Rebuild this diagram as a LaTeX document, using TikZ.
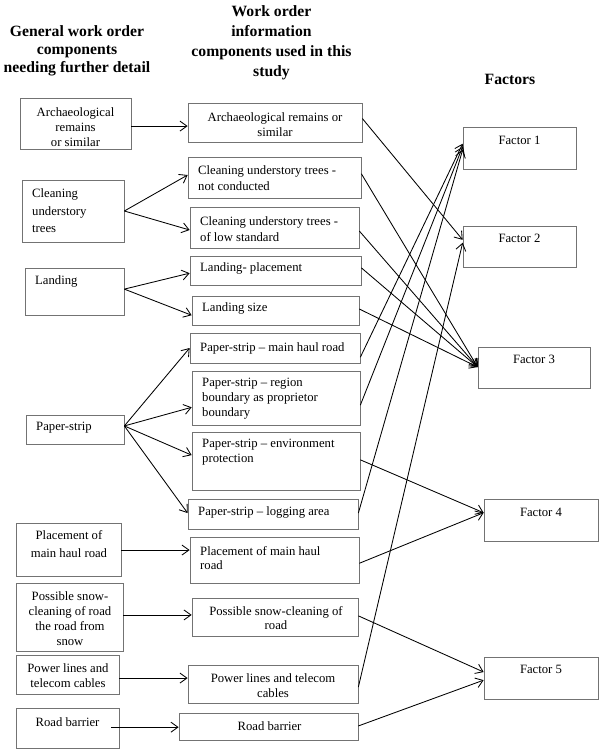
\documentclass[tikz,border=0pt]{standalone}
\usepackage{fontspec}
\setmainfont{Liberation Serif}
\usetikzlibrary{arrows.meta,calc}
\newcommand\bx[5]{\node[box,minimum width={(#4-#2)*1pt},minimum height={(#5-#3)*1pt}] (#1) at ({(#2+#4)/2},{(#3+#5)/2}) {};}
\tikzset{
  box/.style={draw=black!55, line width=0.7pt, rectangle, inner sep=0pt},
  txt/.style={font=\fontsize{12.7}{15}\selectfont, inner sep=0pt, align=left, anchor=west},
  ctxt/.style={font=\fontsize{12.7}{15}\selectfont, inner sep=0pt, align=center, anchor=center},
  hdr/.style={font=\bfseries\fontsize{15.7}{18}\selectfont, inner sep=0pt, align=center},
  arr/.style={line width=0.85pt, -{Straight Barb[length=7pt,width=10pt,line width=0.85pt]}},
}
\begin{document}
\begin{tikzpicture}[x=1pt,y=-1pt]
\useasboundingbox (0,0) rectangle (600,752);
\fill[white] (0,0) rectangle (600,752);

% headers
\node[hdr] (h1) at (77,50.5) {General work order\\components\\needing further detail};
\node[hdr,font=\bfseries\fontsize{15.7}{20}\selectfont] (h2) at (271.5,43) {Work order\\information\\components used in this\\study};
\node[hdr] (h3) at (510,79) {Factors};

% left boxes
\bx{l1}{20}{98}{131}{149}
\bx{l2}{22}{180}{124}{242}
\bx{l3}{25}{268}{124}{315}
\bx{l4}{26}{415}{124}{444}
\bx{l5}{16}{523}{121}{576}
\bx{l6}{16}{583}{123}{651}
\bx{l7}{16}{655}{119}{694}
\bx{l8}{16}{708}{119}{748}

\node[ctxt] (l1t) at (75.5,127) {Archaeological\\remains\\or similar};
\node[txt,font=\fontsize{12.7}{17.5}\selectfont] (l2t) at (32,211) {Cleaning\\understory\\trees};
\node[txt] (l3t) at (35,281) {Landing};
\node[txt] (l4t) at (36,428) {Paper-strip};
\node[ctxt,font=\fontsize{12.7}{17.5}\selectfont] (l5t) at (69,544) {Placement of\\main haul road};
\node[ctxt] (l6t) at (70,618.5) {Possible snow-\\cleaning of road\\the road from\\snow};
\node[ctxt] (l7t) at (68,675.5) {Power lines and\\telecom cables};
\node[ctxt] (l8t) at (67.5,722) {Road barrier};

% middle boxes
\bx{m1}{188}{103}{362}{142}
\bx{m2}{188}{157}{361}{198}
\bx{m3}{190}{207}{359}{248}
\bx{m4}{190}{256}{361}{285}
\bx{m5}{192}{296}{359}{325}
\bx{m6}{190}{333}{360}{363}
\bx{m7}{192}{371}{360}{425}
\bx{m8}{192}{432}{360}{490}
\bx{m9}{188}{499}{358}{529}
\bx{m10}{190}{537}{359}{583}
\bx{m11}{192}{598}{358}{636}
\bx{m12}{188}{665}{358}{703}
\bx{m13}{179}{713}{358}{740}

\node[ctxt] (m1t) at (275,125) {Archaeological remains or\\similar};
\node[txt,font=\fontsize{12.7}{16}\selectfont] (m2t) at (198,178) {Cleaning understory trees -\\not conducted};
\node[txt,font=\fontsize{12.7}{16}\selectfont] (m3t) at (200,229) {Cleaning understory trees -\\of low standard};
\node[txt] (m4t) at (200,268) {Landing- placement};
\node[txt] (m5t) at (202,308) {Landing size};
\node[txt] (m6t) at (200,348) {Paper-strip – main haul road};
\node[txt] (m7t) at (202,399) {Paper-strip – region\\boundary as proprietor\\boundary};
\node[txt,font=\fontsize{12.7}{14.5}\selectfont] (m8t) at (202,452) {Paper-strip – environment\\protection};
\node[txt] (m9t) at (198,512) {Paper-strip – logging area};
\node[txt,font=\fontsize{12.7}{14.5}\selectfont] (m10t) at (200,558) {Placement of main haul\\road};
\node[ctxt,font=\fontsize{12.7}{14.5}\selectfont] (m11t) at (276,618) {Possible snow-cleaning of\\road};
\node[ctxt] (m12t) at (273,685.5) {Power lines and telecom\\cables};
\node[ctxt] (m13t) at (269.5,726) {Road barrier};

% factor boxes
\bx{f1}{463}{127}{576}{169}
\bx{f2}{463}{226}{576}{267}
\bx{f3}{478}{347}{590}{388}
\bx{f4}{484}{499}{598}{541}
\bx{f5}{484}{657}{598}{699}
\node[ctxt] (f1t) at ($(f1.north)+(0,14)$) {Factor 1};
\node[ctxt] (f2t) at ($(f2.north)+(0,12.5)$) {Factor 2};
\node[ctxt] (f3t) at ($(f3.north)+(0,12.5)$) {Factor 3};
\node[ctxt] (f4t) at ($(f4.north)+(0,14)$) {Factor 4};
\node[ctxt] (f5t) at ($(f5.north)+(0,13)$) {Factor 5};

% left -> middle
\coordinate (l1o) at ($(l1.north east)!0.55!(l1.south east)$);
\draw[arr] (l1o) -- (l1o -| m1.west);
\draw[arr] (l2.east) -- ($(m2.north west)!0.44!(m2.south west)$);
\draw[arr] (l2.east) -- ($(m3.north west)!0.56!(m3.south west)$);
\coordinate (l3o) at ($(l3.north east)!0.45!(l3.south east)$);
\draw[arr] (l3o) -- ($(m4.north west)!0.59!(m4.south west)$);
\draw[arr] (l3o) -- ($(m5.north west)!0.66!(m5.south west)$);
\coordinate (l4o) at ($(l4.north east)!0.38!(l4.south east)$);
\draw[arr] (l4o) -- ($(m6.north west)!0.50!(m6.south west)$);
\draw[arr] (l4o) -- ($(m7.north west)!0.67!(m7.south west)$);
\draw[arr] (l4o) -- ($(m8.north west)!0.40!(m8.south west)$);
\draw[arr] (l4o) -- ($(m9.north west)!0.47!(m9.south west)$);
\coordinate (l5o) at ($(l5.north east)!0.51!(l5.south east)$);
\draw[arr] (l5o) -- (l5o -| m10.west);
\coordinate (l6o) at ($(l6.north east)!0.47!(l6.south east)$);
\draw[arr] (l6o) -- (l6o -| m11.west);
\coordinate (l7o) at ($(l7.north east)!0.59!(l7.south east)$);
\draw[arr] (l7o) -- (l7o -| m12.west);
\coordinate (l8o) at ($(l8.north east)!0.48!(l8.south east)+(-8,0)$);
\draw[arr] (l8o) -- (l8o -| m13.west);

% middle -> factors
\draw[arr] ($(m1.north east)!0.40!(m1.south east)$) -- ($(f2.north west)!0.34!(f2.south west)$);
\draw[arr] ($(m2.north east)!0.41!(m2.south east)$) -- ($(f3.north west)!0.49!(f3.south west)$);
\draw[arr] ($(m3.north east)!0.585!(m3.south east)$) -- ($(f3.north west)!0.49!(f3.south west)$);
\draw[arr] ($(m4.north east)!0.41!(m4.south east)$) -- ($(f3.north west)!0.49!(f3.south west)$);
\draw[arr] ($(m5.north east)!0.45!(m5.south east)$) -- ($(f3.north west)!0.49!(f3.south west)$);
\draw[arr] ($(m6.north east)!0.80!(m6.south east)$) -- ($(f1.north west)!0.40!(f1.south west)$);
\draw[arr] ($(m7.north east)!0.63!(m7.south east)$) -- ($(f1.north west)!0.47!(f1.south west)$);
\draw[arr] ($(m8.north east)!0.48!(m8.south east)$) -- ($(f4.north west)!0.33!(f4.south west)$);
\draw[arr] ($(m9.north east)!0.47!(m9.south east)$) -- ($(f1.north west)!0.54!(f1.south west)$);
\draw[arr] ($(m10.north east)!0.57!(m10.south east)$) -- ($(f4.north west)!0.33!(f4.south west)$);
\draw[arr] ($(m11.north east)!0.47!(m11.south east)$) -- ($(f5.north west)!0.36!(f5.south west)$);
\draw[arr] ($(m12.north east)!0.58!(m12.south east)$) -- ($(f2.north west)!0.41!(f2.south west)$);
\draw[arr] ($(m13.north east)!0.48!(m13.south east)$) -- ($(f5.north west)!0.55!(f5.south west)$);
\end{tikzpicture}
\end{document}
